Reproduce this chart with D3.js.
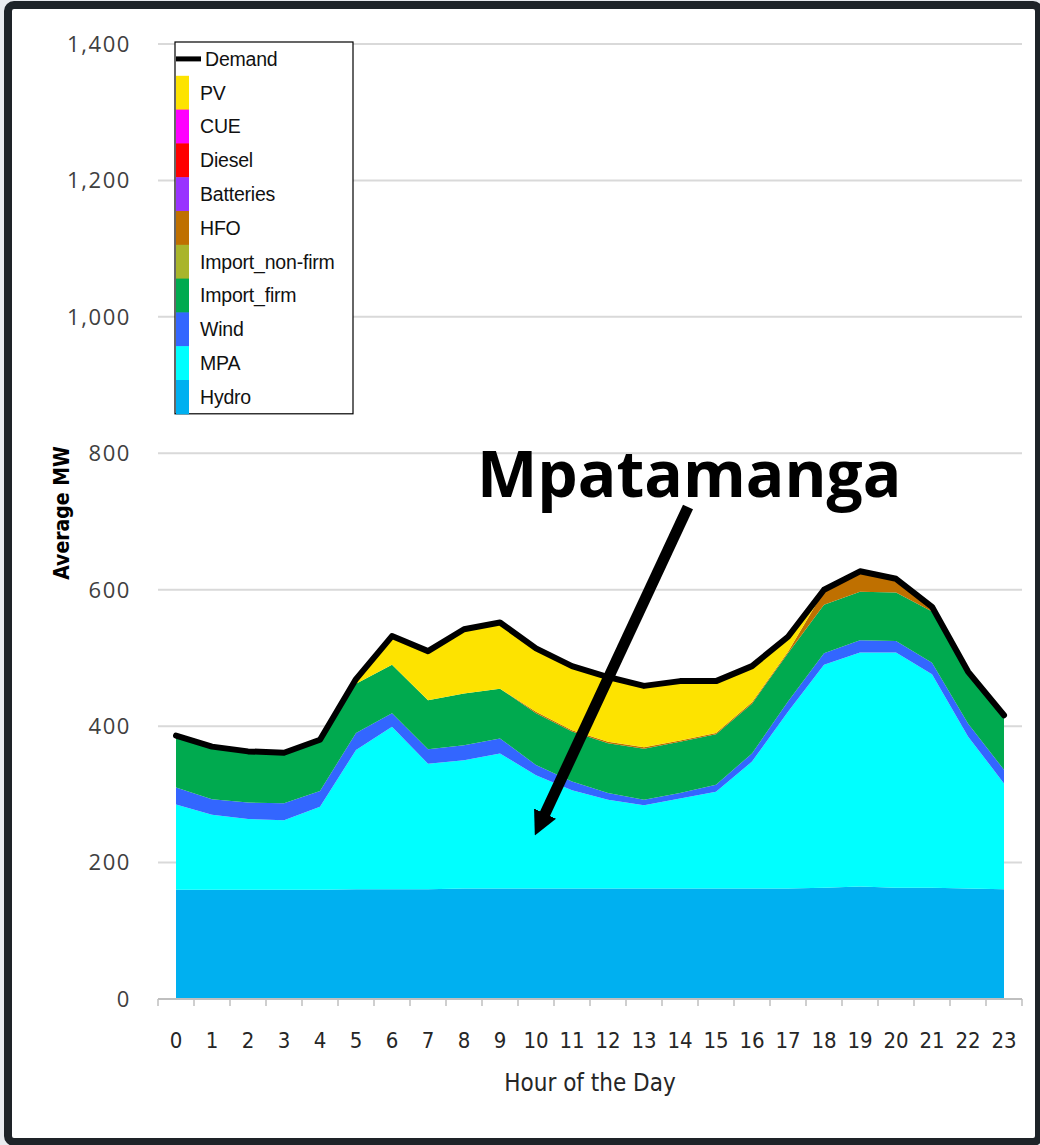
<!DOCTYPE html>
<html>
<head>
<meta charset="utf-8">
<script src="https://cdn.jsdelivr.net/npm/d3@7/dist/d3.min.js"></script>
<style>
  body { margin: 0; background: #e9ebef; }
  svg { display: block; }
</style>
</head>
<body>
<div id="chart"></div>
<script>
var hours = d3.range(0, 24);
var yTicks = [0, 200, 400, 600, 800, 1000, 1200, 1400];

// generation by source, MW (stack order bottom -> top)
var hydro = [160,160,160,160,160,161,161,161,162,162,162,162,162,162,162,162,162,162,163,165,163,163,162,161];
var mpa = [125,110,104,102,122,204,238,184,188,198,166,144,130,122,132,142,186,259,327,343,345,313,223,155];
var wind = [25,23,24,25,23,25,20,21,22,22,15,13,10,8,8,10,12,15,17,18,17,17,19,20];
var importFirm = [77,78,76,75,76,72,71,72,76,73,76,73,73,75,75,74,73,71,71,71,71,75,76,80];
var importNonFirm = [0,0,0,0,0,0,0,0,0,0,0,0,0,0,0,0,0,0,0,0,0,0,0,0];
var hfo = [0,0,0,0,0,0,0,0,0,0,2,2,2,2,2,2,2,2,20,30,20,6,0,0];
var batteries = [0,0,0,0,0,0,0,0,0,0,0,0,0,0,0,0,0,0,0,0,0,0,0,0];
var diesel = [0,0,0,0,0,0,0,0,0,0,0,0,0,0,0,0,0,0,0,0,0,0,0,0];
var cue = [0,0,0,0,0,0,0,0,0,0,0,0,0,0,0,0,0,0,0,0,0,0,0,0];
var pv = [0,0,0,0,0,7,42,73,95,98,93,94,96,91,89,78,53,22,3,0,0,0,0,0];
var demand = [386,370,363,361,380,469,532,510,542,552,514,488,472,459,466,466,488,531,600,627,616,575,480,416];

var seriesNames = ['Hydro','MPA','Wind','Import_firm','Import_non-firm','HFO','Batteries','Diesel','CUE','PV'];
var seriesValues = [hydro, mpa, wind, importFirm, importNonFirm, hfo, batteries, diesel, cue, pv];
var seriesColors = ['#00b0f0','#00ffff','#3366ff','#00aa4f','#a9b52b','#bf7000','#9933ff','#ff0000','#ff00ff','#fde300'];

var width = 1040, height = 1145;

var svg = d3.select('#chart').append('svg')
  .attr('width', width)
  .attr('height', height);

// frame
svg.append('rect')
  .attr('x', 8).attr('y', 5)
  .attr('width', 1031).attr('height', 1137)
  .attr('rx', 6)
  .attr('fill', '#fff')
  .attr('stroke', '#1e2328')
  .attr('stroke-width', 8);

var x = d3.scaleLinear().domain([-0.5, 23.5]).range([158, 1022]);
var y = d3.scaleLinear().domain([0, 1400]).range([999, 44]);

// gridlines
svg.append('g')
  .selectAll('line')
  .data(yTicks.filter(function (d) { return d > 0; }))
  .enter().append('line')
  .attr('x1', 158).attr('x2', 1022)
  .attr('y1', function (d) { return y(d); })
  .attr('y2', function (d) { return y(d); })
  .attr('stroke', '#d9d9d9')
  .attr('stroke-width', 2);

// y tick labels
svg.append('g')
  .selectAll('text')
  .data(yTicks)
  .enter().append('text')
  .attr('x', 131)
  .attr('y', function (d) { return y(d); })
  .attr('dy', '0.36em')
  .attr('text-anchor', 'end')
  .attr('font-family', 'Open Sans, sans-serif')
  .attr('font-size', 22)
  .attr('letter-spacing', 1.6)
  .attr('fill', '#404040')
  .text(function (d) { return d3.format(',')(d); });

// stacked areas
var table = hours.map(function (h, i) {
  var row = { hour: h };
  seriesNames.forEach(function (name, k) { row[name] = seriesValues[k][i]; });
  return row;
});
var stacked = d3.stack().keys(seriesNames)(table);

var area = d3.area()
  .x(function (d) { return x(d.data.hour); })
  .y0(function (d) { return y(d[0]); })
  .y1(function (d) { return y(d[1]); });

svg.append('g')
  .selectAll('path')
  .data(stacked)
  .enter().append('path')
  .attr('d', area)
  .attr('fill', function (d, i) { return seriesColors[i]; });

// demand line
var line = d3.line()
  .x(function (d, i) { return x(hours[i]); })
  .y(function (d) { return y(d); });

svg.append('path')
  .datum(demand)
  .attr('d', line)
  .attr('fill', 'none')
  .attr('stroke', '#000')
  .attr('stroke-width', 6)
  .attr('stroke-linejoin', 'round')
  .attr('stroke-linecap', 'round');

// x axis
var xAxis = svg.append('g');
xAxis.append('line')
  .attr('x1', 158).attr('x2', 1022)
  .attr('y1', 999).attr('y2', 999)
  .attr('stroke', '#bfbfbf')
  .attr('stroke-width', 2);
xAxis.selectAll('line.tick')
  .data(d3.range(0, 25))
  .enter().append('line')
  .attr('class', 'tick')
  .attr('x1', function (d) { return x(d - 0.5); })
  .attr('x2', function (d) { return x(d - 0.5); })
  .attr('y1', 999).attr('y2', 1006)
  .attr('stroke', '#bfbfbf')
  .attr('stroke-width', 1.5);
xAxis.selectAll('text')
  .data(hours)
  .enter().append('text')
  .attr('x', function (d) { return x(d); })
  .attr('y', 1048)
  .attr('text-anchor', 'middle')
  .attr('font-family', 'Liberation Sans Narrow, DejaVu Sans Condensed, sans-serif')
  .attr('font-size', 22)
  .attr('fill', '#262626')
  .text(function (d) { return d; });

svg.append('text')
  .attr('x', 590).attr('y', 1091)
  .attr('text-anchor', 'middle')
  .attr('font-family', 'Liberation Sans Narrow, DejaVu Sans Condensed, sans-serif')
  .attr('font-size', 24)
  .attr('fill', '#262626')
  .text('Hour of the Day');

svg.append('text')
  .attr('transform', 'translate(69,513) rotate(-90)')
  .attr('text-anchor', 'middle')
  .attr('font-family', 'Liberation Sans Narrow, DejaVu Sans Condensed, sans-serif')
  .attr('font-weight', 'bold')
  .attr('font-size', 21)
  .attr('fill', '#000')
  .text('Average MW');

// legend
var legend = svg.append('g');
var rowH = 33.8, legTop = 42;
legend.append('rect')
  .attr('x', 175).attr('y', legTop)
  .attr('width', 178).attr('height', rowH * 11)
  .attr('fill', '#fff')
  .attr('stroke', '#000')
  .attr('stroke-width', 1.2);
legend.append('line')
  .attr('x1', 176).attr('x2', 201)
  .attr('y1', legTop + rowH / 2).attr('y2', legTop + rowH / 2)
  .attr('stroke', '#000').attr('stroke-width', 5);
legend.append('text')
  .attr('x', 205).attr('y', legTop + rowH / 2)
  .attr('dy', '0.35em')
  .attr('font-family', 'Liberation Sans, Arial, sans-serif')
  .attr('font-size', 19.5)
  .attr('letter-spacing', -0.2)
  .attr('fill', '#111')
  .text('Demand');

var legOrder = seriesNames.slice().reverse();
var legColors = seriesColors.slice().reverse();
legOrder.forEach(function (name, i) {
  var top = legTop + rowH * (i + 1);
  legend.append('rect')
    .attr('x', 176).attr('y', top)
    .attr('width', 13).attr('height', rowH + 0.5)
    .attr('fill', legColors[i]);
  legend.append('text')
    .attr('x', 200).attr('y', top + rowH / 2)
    .attr('dy', '0.35em')
    .attr('font-family', 'Liberation Sans, Arial, sans-serif')
    .attr('font-size', 19.5)
    .attr('letter-spacing', -0.2)
    .attr('fill', '#111')
    .text(name);
});

// annotation
svg.append('text')
  .attr('x', 477).attr('y', 497)
  .attr('font-family', 'Open Sans, sans-serif')
  .attr('font-weight', 'bold')
  .attr('font-size', 64)
  .attr('fill', '#000')
  .text('Mpatamanga');

svg.append('defs').append('marker')
  .attr('id', 'head')
  .attr('viewBox', '0 0 10 10')
  .attr('refX', 2).attr('refY', 5)
  .attr('markerWidth', 2.2).attr('markerHeight', 2.2)
  .attr('orient', 'auto')
  .append('path')
  .attr('d', 'M0,0 L10,5 L0,10 Z')
  .attr('fill', '#000');

svg.append('line')
  .attr('x1', 688).attr('y1', 507)
  .attr('x2', 543).attr('y2', 818)
  .attr('stroke', '#000')
  .attr('stroke-width', 11)
  .attr('marker-end', 'url(#head)');
</script>
</body>
</html>
